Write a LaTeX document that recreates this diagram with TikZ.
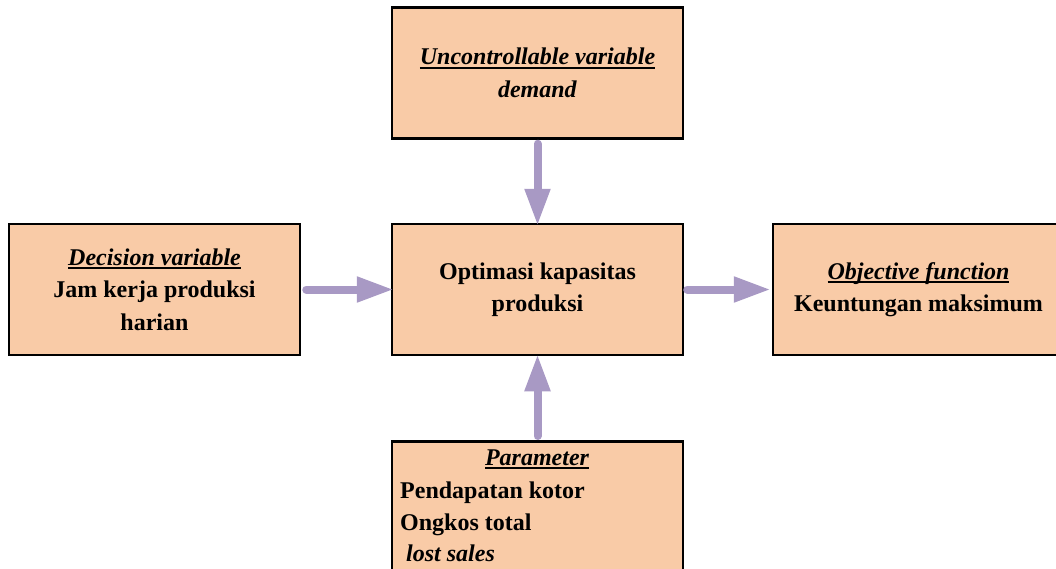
\documentclass[tikz,border=0pt]{standalone}
\usepackage{fontspec}
\setmainfont{Liberation Serif}
\usetikzlibrary{arrows.meta}
\definecolor{boxfill}{HTML}{F9CBA7}
\definecolor{arrowc}{HTML}{A899C4}
\newcommand\myul[1]{\setbox0\hbox{#1}\rlap{\rule[-4pt]{\wd0}{2pt}}\box0}
\begin{document}
\begin{tikzpicture}[x=1pt,y=-1pt,
  box/.style={draw=black, line width=2.5pt, fill=boxfill, minimum width=291pt,
    minimum height=131pt, inner sep=0pt, align=center,
    font=\fontsize{24}{32.5}\selectfont\bfseries},
  arr/.style={draw=arrowc, line width=8pt, line cap=round,
    -{Triangle[length=37pt,width=24pt]}},
  txt/.style={font=\fontsize{24}{32.5}\selectfont\bfseries, inner sep=0pt, anchor=base west}]
\useasboundingbox (0,0) rectangle (1056,568);
\node[box] (unc) at (537.5,73) {\textit{\myul{Uncontrollable variable}}\\\textit{demand}};
\node[box] (dec) at (154.5,289.5) {\textit{\myul{Decision variable}}\\Jam kerja produksi\\harian};
\node[box] (opt) at (537.5,289.5) {Optimasi kapasitas\\produksi};
\node[box] (obj) at (918.5,289.5) {\textit{\myul{Objective function}}\\Keuntungan maksimum};
\node[box, minimum height=170pt, anchor=north] (par) at (537.5,440) {};
\node[txt, anchor=base] (p0) at (537,465) {\textit{\myul{Parameter}}};
\node[txt] (p1) at (400,498) {Pendapatan kotor};
\node[txt] (p2) at (400,530) {Ongkos total};
\node[txt] (p3) at (406,561) {\textit{lost sales}};
\draw[arr, shorten <=4pt, shorten >=-3pt] (unc) -- (opt);
\draw[arr, shorten <=5pt, shorten >=-3pt] (dec) -- (opt);
\draw[arr, shorten <=3pt, shorten >=1pt] (opt) -- (obj);
\draw[arr, shorten <=4pt, shorten >=-2pt] (par) -- (opt);
\end{tikzpicture}
\end{document}
